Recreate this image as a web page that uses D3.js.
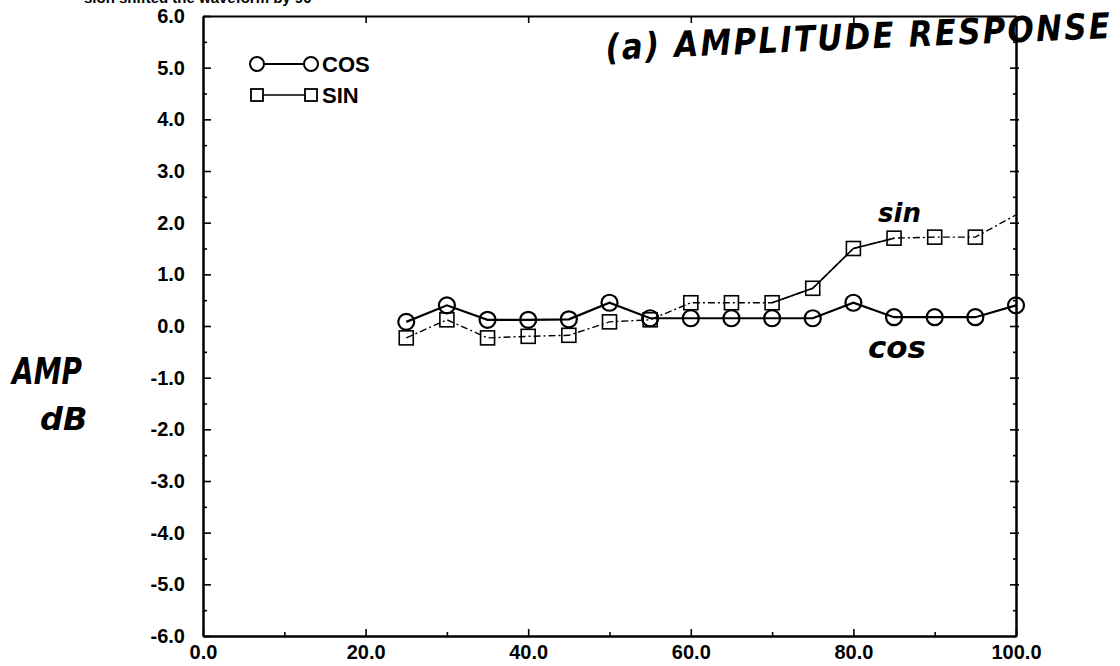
<!DOCTYPE html>
<html>
<head>
<meta charset="utf-8">
<script src="https://cdn.jsdelivr.net/npm/d3@7/dist/d3.min.js"></script>
<style>
  html, body { margin: 0; padding: 0; background: #fff; }
  svg { display: block; }
  .hand { font-family: "DejaVu Sans", sans-serif; font-weight: bold; font-style: italic; fill: #000; }
</style>
</head>
<body>
<svg id="chart" width="1120" height="666"></svg>
<script>
// ---- data ----
const xValues   = [25, 30, 35, 40, 45, 50, 55, 60, 65, 70, 75, 80, 85, 90, 95, 100];
const cosValues = [0.08, 0.40, 0.12, 0.12, 0.13, 0.45, 0.15, 0.15, 0.15, 0.15, 0.15, 0.45, 0.17, 0.17, 0.17, 0.40];
const sinValues = [-0.23, 0.12, -0.23, -0.20, -0.18, 0.08, 0.12, 0.45, 0.45, 0.45, 0.73, 1.50, 1.70, 1.72, 1.72, 2.15];
const xTicks = [0, 20, 40, 60, 80, 100];
const xMinorTicks = [10, 30, 50, 70, 90];
const yTicks = [-6, -5, -4, -3, -2, -1, 0, 1, 2, 3, 4, 5, 6];
const yMinorTicks = [-5.5, -4.5, -3.5, -2.5, -1.5, -0.5, 0.5, 1.5, 2.5, 3.5, 4.5, 5.5];
const seriesNames = ["COS", "SIN"];
const sinSolidRange = [70, 85];

(function () {
const svg = d3.select("#chart");
const x = d3.scaleLinear().domain([0, 100]).range([203, 1016]);
const y = d3.scaleLinear().domain([-6, 6]).range([636, 16]);
const fmt = v => d3.format(".1f")(v).replace("\u2212", "-");

// clipped caption fragment at very top
svg.append("text")
  .attr("x", 84).attr("y", 3)
  .attr("font-family", "Liberation Sans, Arial, sans-serif")
  .attr("font-weight", "bold").attr("font-size", 15)
  .text("sion shifted the waveform by 90°");

function styleAxis(g, fs) {
  g.selectAll("path.domain").attr("stroke", "#000").attr("stroke-width", 2);
  g.selectAll(".tick line").attr("stroke", "#000").attr("stroke-width", 1.6);
  g.selectAll(".tick text").attr("font-size", fs).attr("fill", "#000")
    .attr("font-family", "Liberation Sans, Arial, sans-serif").attr("font-weight", "bold");
}
const leftAx = svg.append("g").attr("transform", `translate(${x(0)},0)`)
  .call(d3.axisLeft(y).tickValues(yTicks).tickFormat(fmt).tickSizeInner(-8).tickSizeOuter(0).tickPadding(18));
styleAxis(leftAx, 20);
const leftMinor = svg.append("g").attr("transform", `translate(${x(0)},0)`)
  .call(d3.axisLeft(y).tickValues(yMinorTicks).tickFormat("").tickSizeInner(-4).tickSizeOuter(0));
styleAxis(leftMinor, 20);

const bottomAx = svg.append("g").attr("transform", `translate(0,${y(-6)})`)
  .call(d3.axisBottom(x).tickValues(xTicks).tickFormat(fmt).tickSizeInner(-7).tickSizeOuter(0).tickPadding(9));
styleAxis(bottomAx, 20);
const bottomMinor = svg.append("g").attr("transform", `translate(0,${y(-6)})`)
  .call(d3.axisBottom(x).tickValues(xMinorTicks).tickFormat("").tickSizeInner(-4).tickSizeOuter(0));
styleAxis(bottomMinor, 20);

const topAx = svg.append("g").attr("transform", `translate(0,${y(6)})`)
  .call(d3.axisTop(x).tickValues(xTicks.slice(1, -1)).tickFormat("").tickSizeInner(-7).tickSizeOuter(0));
styleAxis(topAx, 20);
const rightAx = svg.append("g").attr("transform", `translate(${x(100)},0)`)
  .call(d3.axisRight(y).tickValues(yTicks.slice(1, -1)).tickFormat("").tickSizeInner(-6).tickSizeOuter(0));
styleAxis(rightAx, 20);
rightAx.selectAll(".tick line").attr("x1", 3);
const rightMinor = svg.append("g").attr("transform", `translate(${x(100)},0)`)
  .call(d3.axisRight(y).tickValues(yMinorTicks).tickFormat("").tickSizeInner(-3).tickSizeOuter(0));
styleAxis(rightMinor, 20);

// data
const cosData = xValues.map((v, i) => ({ x: v, y: cosValues[i] }));
const sinData = xValues.map((v, i) => ({ x: v, y: sinValues[i] }));
const line = d3.line().x(d => x(d.x)).y(d => y(d.y));

// SIN line (dashed, with a solid stretch)
svg.append("path").datum(sinData).attr("d", line)
  .attr("fill", "none").attr("stroke", "#000").attr("stroke-width", 1.4)
  .attr("stroke-dasharray", "7,3,2,3");
svg.append("path").datum(sinData.filter(d => d.x >= sinSolidRange[0] && d.x <= sinSolidRange[1])).attr("d", line)
  .attr("fill", "none").attr("stroke", "#000").attr("stroke-width", 1.6);
svg.append("g").selectAll("rect").data(sinData.slice(0, -1)).join("rect")
  .attr("x", d => x(d.x) - 7).attr("y", d => y(d.y) - 7)
  .attr("width", 14).attr("height", 14)
  .attr("fill", "none").attr("stroke", "#000").attr("stroke-width", 1.6);

// COS line
svg.append("path").datum(cosData).attr("d", line)
  .attr("fill", "none").attr("stroke", "#000").attr("stroke-width", 2.2);
svg.append("g").selectAll("circle").data(cosData).join("circle")
  .attr("cx", d => x(d.x)).attr("cy", d => y(d.y)).attr("r", 8)
  .attr("fill", "none").attr("stroke", "#000").attr("stroke-width", 2.2);

// legend
const lg = svg.append("g");
const lx1 = 257, lx2 = 311, ly = [64, 95];
lg.append("line").attr("x1", lx1).attr("x2", lx2).attr("y1", ly[0]).attr("y2", ly[0]).attr("stroke", "#000").attr("stroke-width", 1.8);
lg.selectAll("circle").data([lx1, lx2]).join("circle").attr("cx", d => d).attr("cy", ly[0]).attr("r", 7)
  .attr("fill", "#fff").attr("stroke", "#000").attr("stroke-width", 2);
lg.append("line").attr("x1", lx1).attr("x2", lx2).attr("y1", ly[1]).attr("y2", ly[1]).attr("stroke", "#000").attr("stroke-width", 1.4);
lg.selectAll("rect").data([lx1, lx2]).join("rect").attr("x", d => d - 6).attr("y", ly[1] - 6).attr("width", 12).attr("height", 12)
  .attr("fill", "#fff").attr("stroke", "#000").attr("stroke-width", 1.8);
lg.selectAll("text").data(seriesNames).join("text")
  .attr("x", 322).attr("y", (d, i) => ly[i]).attr("dy", "0.36em")
  .attr("font-family", "Liberation Sans, Arial, sans-serif").attr("font-weight", "bold").attr("font-size", 22)
  .text(d => d);

// handwritten annotations
svg.append("text").attr("class", "hand")
  .attr("transform", "translate(606,60) rotate(-2.5) scale(1,1.15)")
  .attr("font-size", 31).attr("letter-spacing", 2.2)
  .text("(a) AMPLITUDE RESPONSE");
svg.append("text").attr("class", "hand").attr("x", 878).attr("y", 222).attr("font-size", 26).text("sin");
svg.append("text").attr("class", "hand").attr("x", 868).attr("y", 358).attr("font-size", 30)
  .attr("textLength", 58).attr("lengthAdjust", "spacingAndGlyphs").text("cos");
svg.append("text").attr("class", "hand").attr("x", 12).attr("y", 384).attr("font-size", 38)
  .attr("textLength", 70).attr("lengthAdjust", "spacingAndGlyphs").text("AMP");
svg.append("text").attr("class", "hand").attr("x", 40).attr("y", 430).attr("font-size", 32).text("dB");
})();
</script>
</body>
</html>
